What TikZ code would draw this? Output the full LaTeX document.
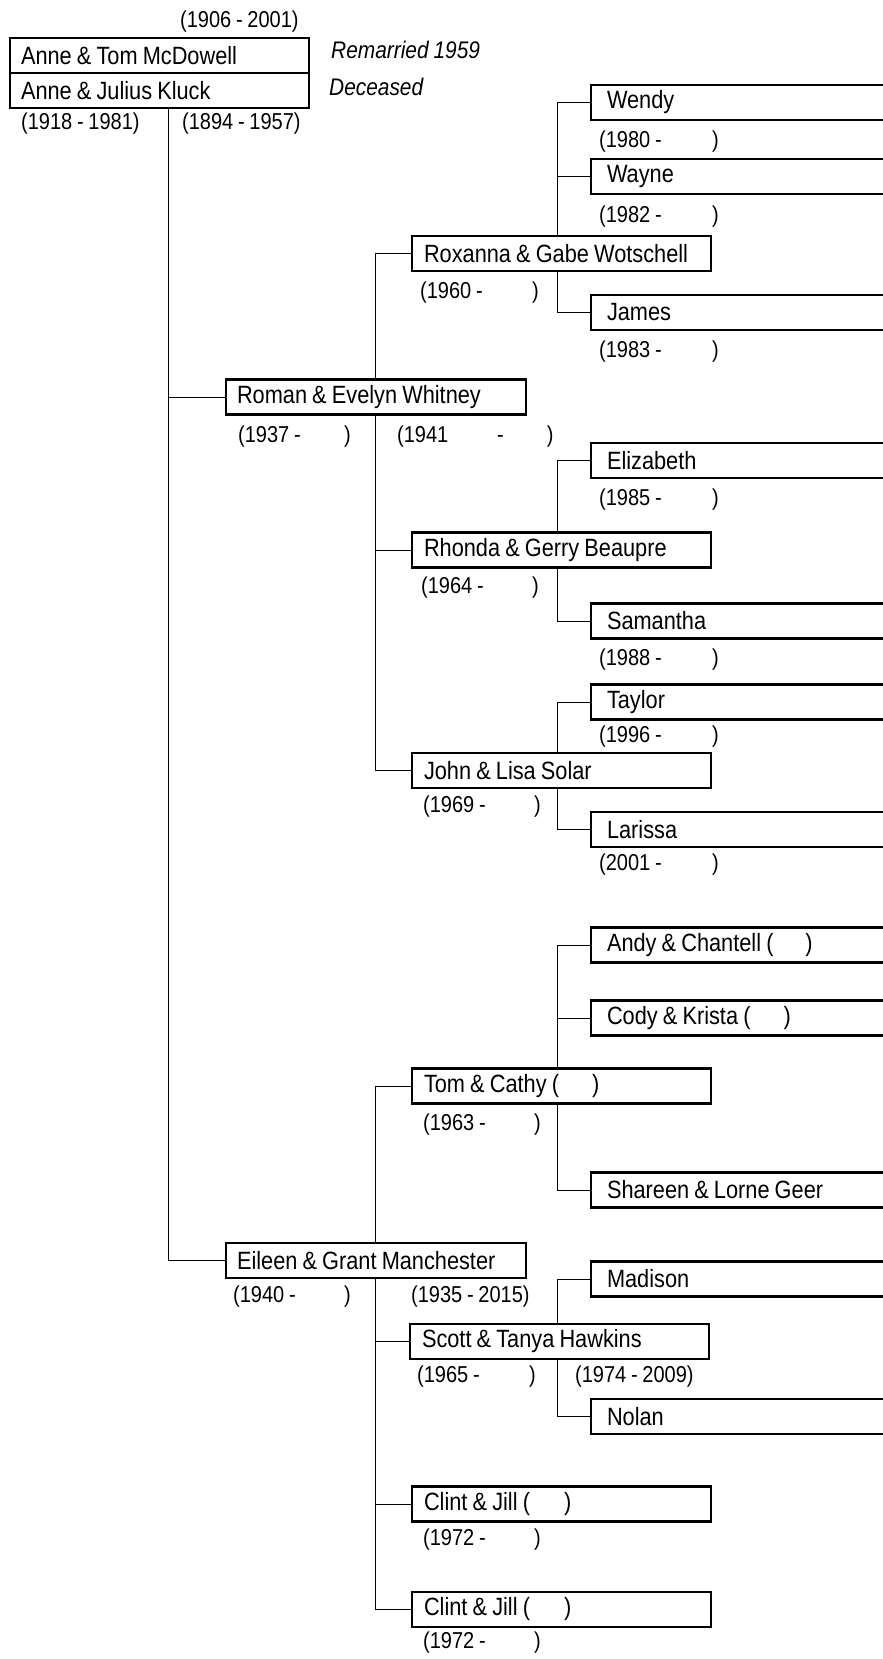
\documentclass[tikz,border=0pt]{standalone}
\usepackage{fontspec}
\setmainfont{Liberation Sans}[FakeStretch=0.87,WordSpace=0.85]
\usetikzlibrary{backgrounds}
\newcommand{\since}[2]{\makebox[#2pt][l]{(#1 -})}
\tikzset{
  person/.style={draw,line width=2.3pt,fill=white,anchor=west,minimum height=35pt,inner ysep=0pt,outer sep=0pt,align=flush left,font=\fontsize{25}{29}\selectfont},
  elder/.style={person,inner xsep=11pt,text width=277pt},
  couple/.style={person,inner xsep=11pt,text width=278pt},
  family/.style={person,inner xsep=12pt,text width=275pt},
  kid/.style={person,inner xsep=16pt,text width=290pt},
  years/.style={anchor=west,inner sep=0pt,font=\fontsize{23}{27}\selectfont},
  remark/.style={anchor=west,inner sep=0pt,font=\fontsize{24}{28}\selectfont\itshape},
  link/.style={line width=2.3pt},
}
\begin{document}
\begin{tikzpicture}[x=1pt,y=-1pt]
  \useasboundingbox (0,0) rectangle (883,1659);
  % first generation
  \node[elder] (mcdowell) at (10,55.5) {Anne \& Tom McDowell};
  \node[elder] (kluck) at (10,90.5) {Anne \& Julius Kluck};
  \node[years] (tomd) at (180,22) {(1906 - 2001)};
  \node[years] (anne) at (21,124) {(1918 - 1981)};
  \node[years] (julius) at (182,124) {(1894 - 1957)};
  \node[remark] (remarried) at (331,50) {Remarried 1959};
  \node[remark] (deceased) at (329,87) {Deceased};
  \coordinate (trunk) at (168,108);
  % second generation
  \node[couple] (roman) at (226,397) {Roman \& Evelyn Whitney};
  \node[years] (romany) at (238,437) {\since{1937}{106}};
  \node[years] (evelyny) at (397,437) {\makebox[100pt][l]{(1941}-\hspace{43pt})};
  \node[couple] (eileen) at (226,1260.5) {Eileen \& Grant Manchester};
  \node[years] (eileeny) at (233,1297) {\since{1940}{111}};
  \node[years] (granty) at (411,1297) {(1935 - 2015)};
  % third generation
  \node[family] (roxanna) at (412,253.5) {Roxanna \& Gabe Wotschell};
  \node[years] (roxannay) at (420,293) {\since{1960}{112}};
  \node[family] (rhonda) at (412,550) {Rhonda \& Gerry Beaupre};
  \node[years] (rhonday) at (421,588) {\since{1964}{111}};
  \node[family] (john) at (412,770.5) {John \& Lisa Solar};
  \node[years] (johny) at (423,807) {\since{1969}{111}};
  \node[family] (tom) at (412,1086) {Tom \& Cathy (\hspace{33pt})};
  \node[years] (tomy) at (423,1125) {\since{1963}{111}};
  \node[family] (scott) at (410,1341.5) {Scott \& Tanya Hawkins};
  \node[years] (scotty) at (417,1377) {\since{1965}{112}};
  \node[years] (tanyay) at (575,1377) {(1974 - 2009)};
  \node[family] (clintone) at (412,1504) {Clint \& Jill (\hspace{34pt})};
  \node[years] (clintoney) at (423,1540) {\since{1972}{111}};
  \node[family] (clinttwo) at (412,1609.5) {Clint \& Jill (\hspace{34pt})};
  \node[years] (clinttwoy) at (423,1643) {\since{1972}{111}};
  % fourth generation
  \node[kid] (wendy) at (591,102.5) {Wendy};
  \node[years] (wendyy) at (599,142) {\since{1980}{113}};
  \node[kid] (wayne) at (591,176.5) {Wayne};
  \node[years] (wayney) at (599,217) {\since{1982}{113}};
  \node[kid] (james) at (591,312.5) {James};
  \node[years] (jamesy) at (599,352) {\since{1983}{113}};
  \node[kid] (elizabeth) at (591,460.5) {Elizabeth};
  \node[years] (elizabethy) at (599,500) {\since{1985}{113}};
  \node[kid] (samantha) at (591,621) {Samantha};
  \node[years] (samanthay) at (599,660) {\since{1988}{113}};
  \node[kid] (taylor) at (591,702) {Taylor};
  \node[years] (taylory) at (599,737) {\since{1996}{113}};
  \node[kid] (larissa) at (591,829.5) {Larissa};
  \node[years] (larissay) at (599,865) {\since{2001}{113}};
  \node[kid] (andy) at (591,945) {Andy \& Chantell (\hspace{32pt})};
  \node[kid] (cody) at (591,1018) {Cody \& Krista (\hspace{33pt})};
  \node[kid] (shareen) at (591,1190) {Shareen \& Lorne Geer};
  \node[kid] (madison) at (591,1279) {Madison};
  \node[kid] (nolan) at (591,1416.5) {Nolan};
  % connectors
  \begin{scope}[on background layer,link]
    \fill[white] (0,0) rectangle (883,1659);
    \draw (trunk) |- (eileen.west);
    \draw (roman.west) -- ++(-58,0);
    \draw (roxanna.west) -- ++(-37,0) |- (john.west);
    \draw (rhonda.west) -- ++(-37,0);
    \draw (tom.west) -- ++(-37,0) |- (clinttwo.west);
    \draw (scott.west) -- ++(-35,0);
    \draw (clintone.west) -- ++(-37,0);
    \draw (wendy.west) -- ++(-34,0) |- (james.west);
    \draw (wayne.west) -- ++(-34,0);
    \draw (elizabeth.west) -- ++(-34,0) |- (samantha.west);
    \draw (taylor.west) -- ++(-34,0) |- (larissa.west);
    \draw (andy.west) -- ++(-34,0) |- (shareen.west);
    \draw (cody.west) -- ++(-34,0);
    \draw (madison.west) -- ++(-34,0) |- (nolan.west);
  \end{scope}
\end{tikzpicture}
\end{document}
